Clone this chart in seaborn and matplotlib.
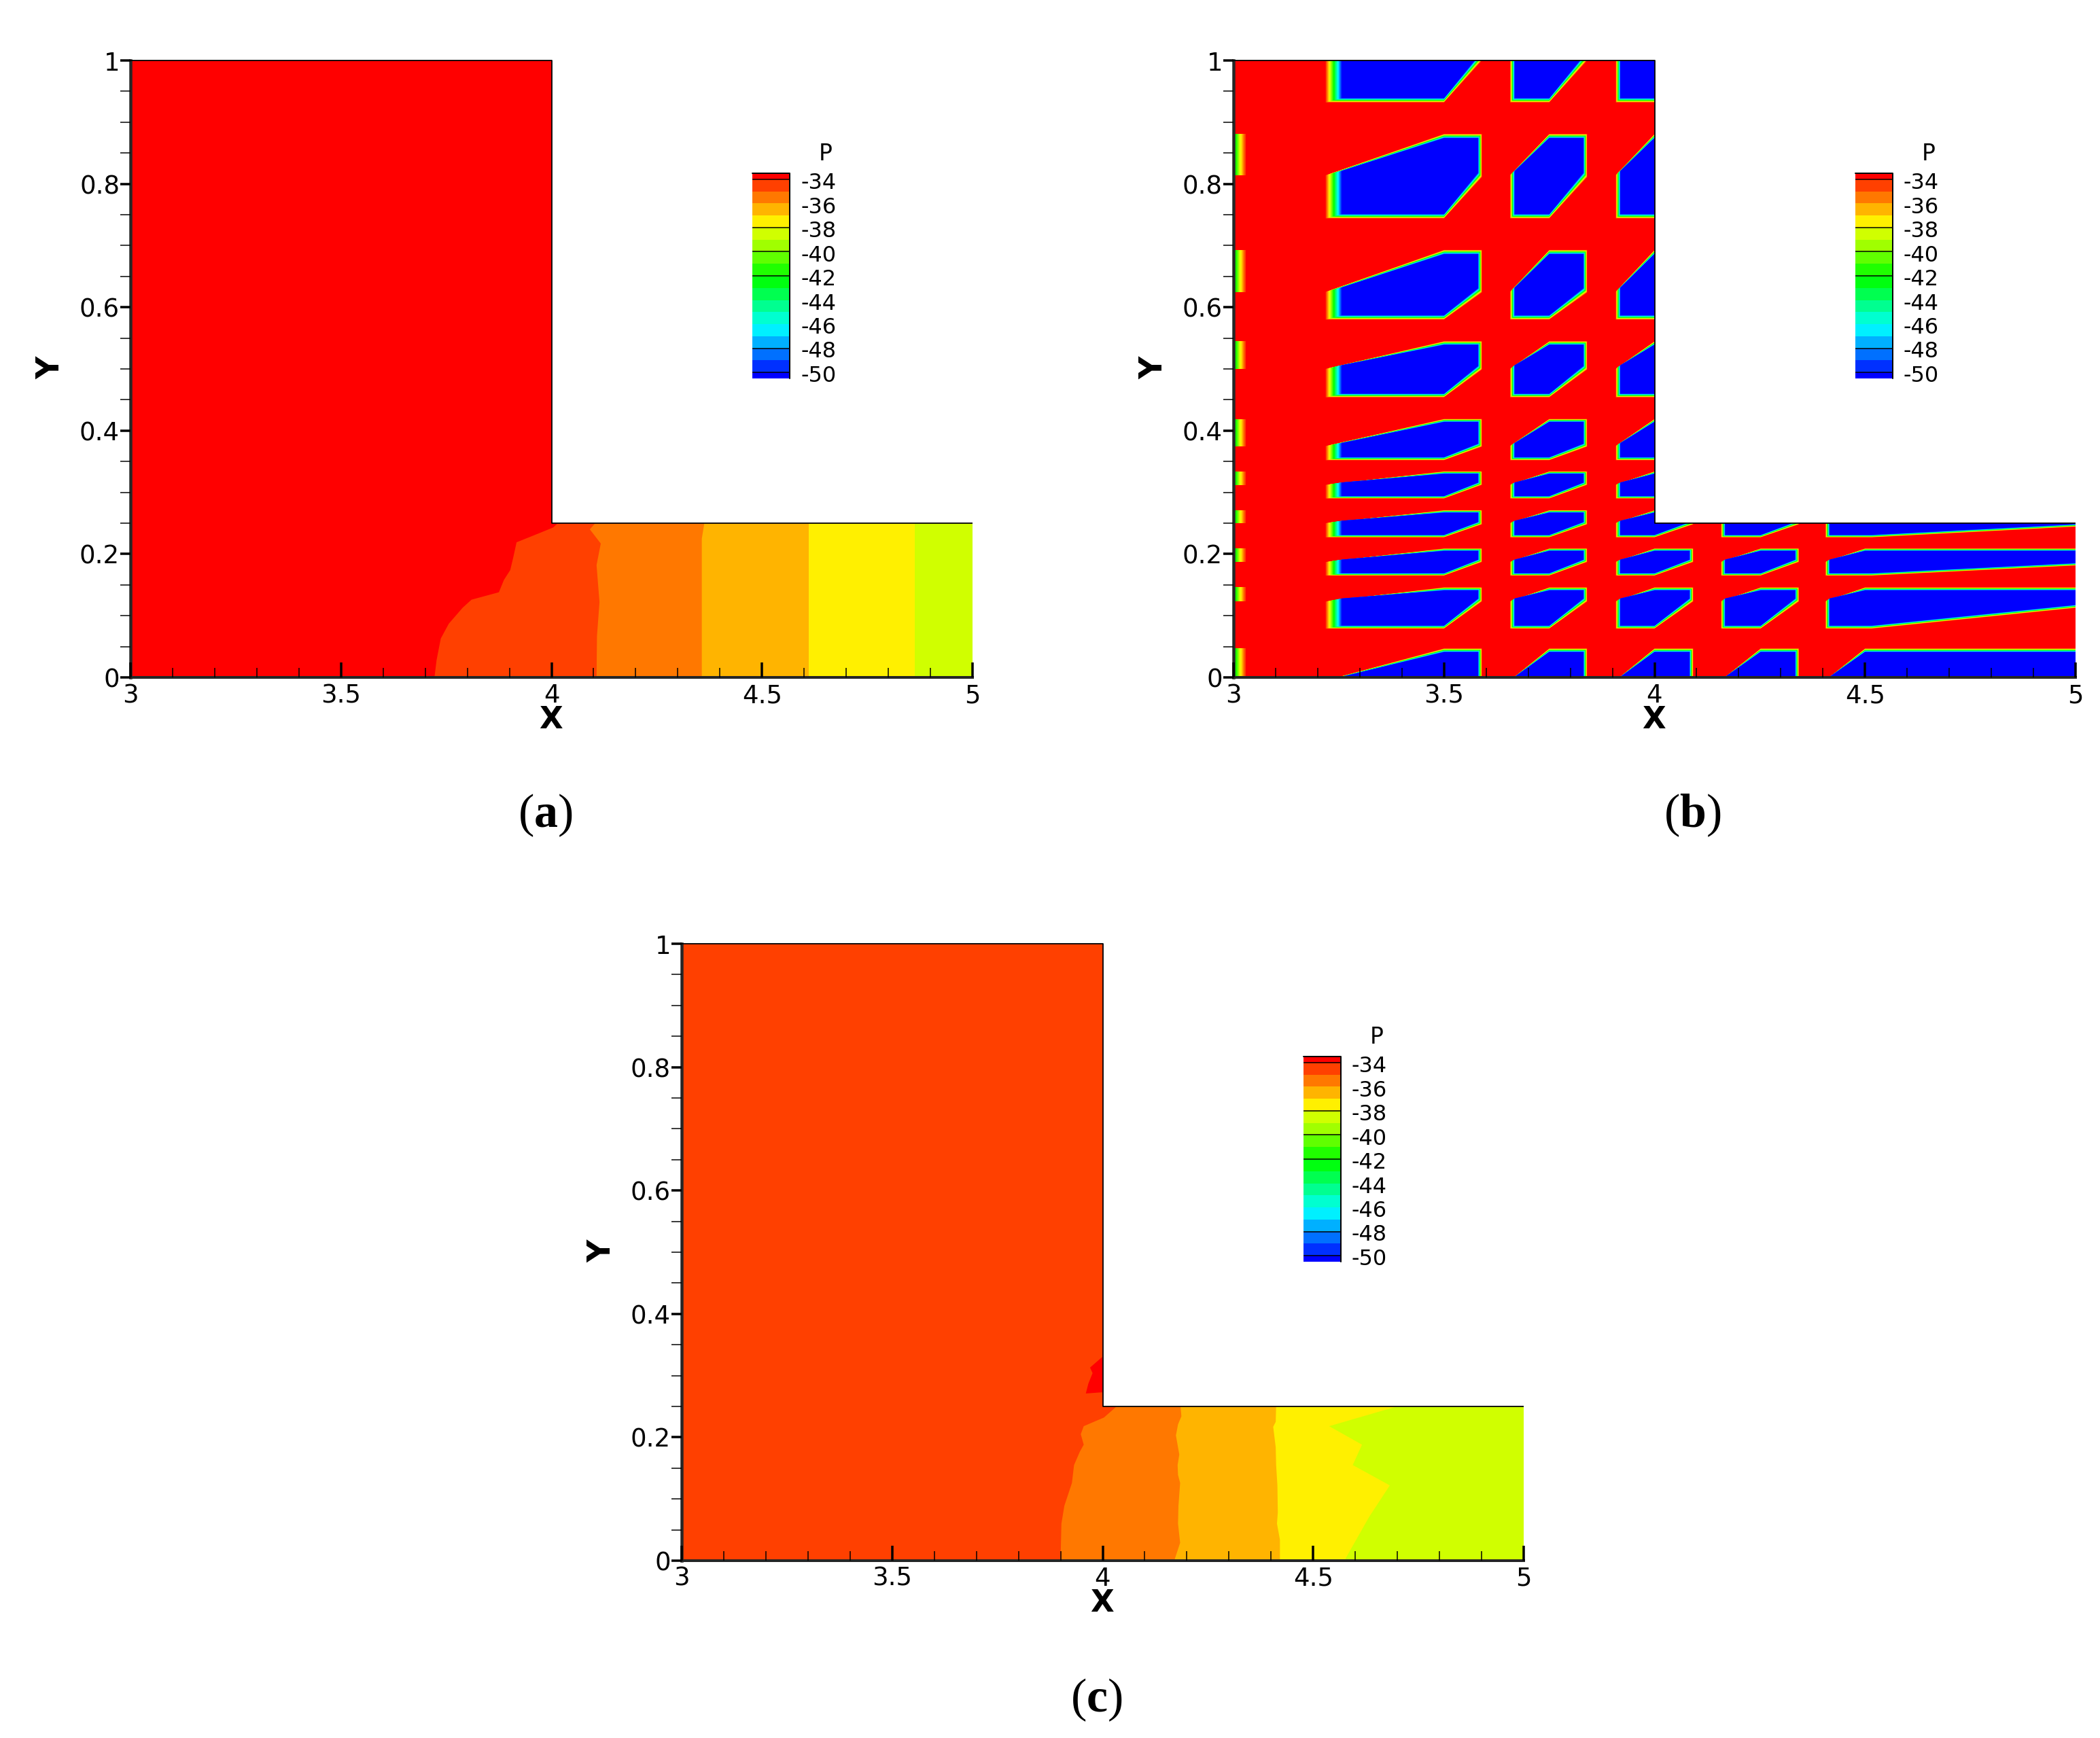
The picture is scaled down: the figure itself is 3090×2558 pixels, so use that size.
import numpy as np
import matplotlib
matplotlib.use('Agg')
import matplotlib.pyplot as plt
from matplotlib.colors import ListedColormap
from matplotlib.patches import Polygon
import seaborn as sns

W, H = 3090, 2558

# Contour colours, from the -33 band down to the -50 band
P_COLORS = ['#ff0000', '#ff4000', '#ff7800', '#ffb400', '#fff000', '#d0ff00',
            '#a0ff00', '#60ff00', '#20ff00', '#00ff10', '#00ff50', '#00ff90',
            '#00ffd0', '#00f0ff', '#00b0ff', '#0070ff', '#0030ff', '#0000ff']
LEGEND_LABELS = ['-34', '-36', '-38', '-40', '-42', '-44', '-46', '-48', '-50']
# half-unit rows taken by each colour in the legend bar, and rows that have a black line
LEGEND_COUNTS = [1] + [2] * 16 + [1]
LEGEND_LINE_ROWS = [1, 9, 13, 17, 29, 33]

DOMAIN_X = [3, 5, 5, 4, 4, 3]
DOMAIN_Y = [0, 0, 0.25, 0.25, 1, 1]
X_MAJOR = [3, 3.5, 4, 4.5, 5]
X_LABELS = ['3', '3.5', '4', '4.5', '5']
X_MINOR = [3.1, 3.2, 3.3, 3.4, 3.6, 3.7, 3.8, 3.9, 4.1, 4.2, 4.3, 4.4, 4.6, 4.7, 4.8, 4.9]
Y_MAJOR = [0, 0.2, 0.4, 0.6, 0.8, 1]
Y_LABELS = ['0', '0.2', '0.4', '0.6', '0.8', '1']
Y_MINOR = [0.05, 0.1, 0.15, 0.25, 0.3, 0.35, 0.45, 0.5, 0.55, 0.65, 0.7, 0.75, 0.85, 0.9, 0.95]

# Panel (a): contour lines, top to bottom
A_X1 = [4.015, 4.004, 3.968, 3.917, 3.909, 3.902, 3.887, 3.875, 3.810, 3.789, 3.756, 3.737, 3.727, 3.722]
A_Y1 = [0.25, 0.243, 0.233, 0.219, 0.194, 0.174, 0.158, 0.138, 0.126, 0.113, 0.087, 0.063, 0.028, 0]
A_X2 = [4.104, 4.091, 4.117, 4.107, 4.114, 4.108, 4.107]
A_Y2 = [0.25, 0.24, 0.217, 0.182, 0.122, 0.067, 0]
A_X3 = [4.363, 4.357, 4.357]
A_Y3 = [0.25, 0.225, 0]
A_X4 = [4.611, 4.611]
A_Y4 = [0.25, 0]
A_X5 = [4.863, 4.863]
A_Y5 = [0.25, 0]

# Panel (c): contour lines, top to bottom
C_X1 = [4.033, 4.003, 3.955, 3.948, 3.955, 3.946, 3.932, 3.927, 3.909, 3.902, 3.900]
C_Y1 = [0.25, 0.232, 0.218, 0.205, 0.188, 0.177, 0.155, 0.126, 0.089, 0.060, 0]
C_X2 = [4.185, 4.187, 4.179, 4.174, 4.182, 4.178, 4.179, 4.184, 4.180, 4.179, 4.184, 4.170]
C_Y2 = [0.25, 0.234, 0.221, 0.203, 0.172, 0.155, 0.139, 0.126, 0.089, 0.060, 0.029, 0]
C_X3 = [4.412, 4.411, 4.405, 4.411, 4.412, 4.415, 4.416, 4.414, 4.421, 4.421]
C_Y3 = [0.25, 0.225, 0.217, 0.184, 0.155, 0.122, 0.078, 0.060, 0.034, 0]
C_X4 = [4.699, 4.538, 4.616, 4.594, 4.682, 4.633, 4.574]
C_Y4 = [0.25, 0.218, 0.188, 0.155, 0.122, 0.071, 0]
C_WEDGE_X = [4.0, 3.997, 3.970, 3.976, 3.966, 3.960, 4.0]
C_WEDGE_Y = [0.33, 0.329, 0.313, 0.304, 0.287, 0.271, 0.273]

# Panel (b): blue cells, one hexagon per column and row
COL_XL = [3.219, 3.657, 3.908, 4.158, 4.406]
COL_XM_BOT = [3.5, 3.75, 4.0, 4.252, 4.516]
COL_XM_TOP = [3.5, 3.75, 4.0, 4.252, 4.5]
COL_XR = [3.59, 3.84, 4.092, 4.343, 5.02]
COL_BAND_L = [0.038, 0.011, 0.011, 0.010, 0.010]
COL_BAND_R = [0.009, 0.009, 0.009, 0.009, 0.0]

ROW_YT = [1.1, 0.881, 0.693, 0.545, 0.419, 0.334, 0.271, 0.209, 0.146, 0.047]
ROW_YTL = [1.1, 0.814, 0.625, 0.500, 0.375, 0.312, 0.250, 0.187, 0.123, -0.005]
ROW_YBR = [1.0, 0.811, 0.624, 0.499, 0.374, 0.312, 0.248, 0.187, 0.123, -0.06]
ROW_YB = [0.932, 0.744, 0.580, 0.454, 0.352, 0.290, 0.227, 0.165, 0.079, -0.1]
ROW_BAND = [0.007, 0.007, 0.007, 0.006, 0.005, 0.004, 0.004, 0.004, 0.005, 0.006]
# last column runs out to x=5, where its lower edge has its own height
LAST_COL_YBR = [1.0, 0.811, 0.624, 0.499, 0.374, 0.312, 0.245, 0.182, 0.114, -0.06]
# strips along x=3 belong to cells cut off by the left wall
STRIP_XR = 3.029
STRIP_XL = 2.98

sns.set_theme(style='ticks', rc={'axes.grid': False})
plt.rcParams['font.family'] = ['DejaVu Sans']
plt.rcParams['mathtext.fontset'] = 'custom'
plt.rcParams['mathtext.rm'] = 'Liberation Serif'
plt.rcParams['mathtext.bf'] = 'Liberation Serif:bold'

fig = plt.figure(figsize=(W / 100, H / 100), dpi=100, facecolor='white')


def pt(px):
    return px * 0.72


def ftext(x, y, s, **kw):
    fig.text(x / W, 1 - y / H, s, **kw)


def clipped_fill(ax, clip, xs, ys, color):
    for p in ax.fill(xs, ys, color=color, linewidth=0):
        p.set_clip_path(clip)


def draw_bands(ax, clip, first, lines):
    clipped_fill(ax, clip, DOMAIN_X, DOMAIN_Y, P_COLORS[first])
    for k, (xs, ys) in enumerate(lines):
        clipped_fill(ax, clip, list(xs) + [5, 5], list(ys) + [0, 0.25], P_COLORS[first + k + 1])


def draw_ring(ax, clip, outer_x, outer_y, inner_x, inner_y):
    # nested outlines going from the outer edge to the inner edge, one per colour
    outer_x, outer_y = np.array(outer_x), np.array(outer_y)
    inner_x, inner_y = np.array(inner_x), np.array(inner_y)
    n = len(P_COLORS) - 1
    for k in range(1, n + 1):
        t = (k - 1) / (n - 1)
        clipped_fill(ax, clip, outer_x + t * (inner_x - outer_x),
                     outer_y + t * (inner_y - outer_y), P_COLORS[k])


def draw_cells(ax, clip):
    clipped_fill(ax, clip, DOMAIN_X, DOMAIN_Y, P_COLORS[0])
    for r in range(len(ROW_YT)):
        if r > 0:
            draw_ring(ax, clip,
                      [2.9, STRIP_XR, STRIP_XR, 2.9], [ROW_YTL[r], ROW_YTL[r], ROW_YT[r], ROW_YT[r]],
                      [2.9, STRIP_XL, STRIP_XL, 2.9], [ROW_YTL[r], ROW_YTL[r], ROW_YT[r], ROW_YT[r]])
        for c in range(len(COL_XL)):
            ybr = LAST_COL_YBR[r] if c == 4 else ROW_YBR[r]
            d = ROW_BAND[r]
            dl, dr = COL_BAND_L[c], COL_BAND_R[c]
            draw_ring(ax, clip,
                      [COL_XL[c], COL_XM_BOT[c], COL_XR[c], COL_XR[c], COL_XM_TOP[c], COL_XL[c]],
                      [ROW_YB[r], ROW_YB[r], ybr, ROW_YT[r], ROW_YT[r], ROW_YTL[r]],
                      [COL_XL[c] + dl, COL_XM_BOT[c], COL_XR[c] - dr, COL_XR[c] - dr, COL_XM_TOP[c], COL_XL[c] + dl],
                      [ROW_YB[r] + d, ROW_YB[r] + d, ybr + d, ROW_YT[r] - d, ROW_YT[r] - d, ROW_YTL[r] + d])


def make_panel(x0, y0):
    # x0, y0: pixel position of the top left corner of the plot area
    w, h = 1239, 908
    ax = fig.add_axes([x0 / W, 1 - (y0 + h) / H, w / W, h / H])
    ax.set_xlim(3, 5)
    ax.set_ylim(0, 1)
    ax.set_facecolor('white')
    ax.set_axisbelow(False)
    ax.spines['top'].set_visible(False)
    ax.spines['right'].set_visible(False)
    ax.spines['left'].set_linewidth(pt(4.5))
    ax.spines['bottom'].set_linewidth(pt(4))
    ax.set_xticks(X_MAJOR, X_LABELS)
    ax.set_yticks(Y_MAJOR, Y_LABELS)
    ax.set_xticks(X_MINOR, minor=True)
    ax.set_yticks(Y_MINOR, minor=True)
    ax.tick_params(axis='x', which='major', direction='in', length=pt(22), width=pt(3.5),
                   pad=pt(8), labelsize=pt(37), color='black', labelcolor='black')
    ax.tick_params(axis='x', which='minor', direction='in', length=pt(14), width=pt(1.5), color='black')
    ax.tick_params(axis='y', which='major', direction='out', length=pt(15), width=pt(3.5),
                   pad=pt(1), labelsize=pt(37), color='black', labelcolor='black')
    ax.tick_params(axis='y', which='minor', direction='out', length=pt(15), width=pt(1.5), color='black')

    ax.plot([3, 4, 4, 5], [1, 1, 0.25, 0.25], color='black', lw=pt(1.8), zorder=5,
            solid_capstyle='butt', clip_on=False)

    ftext(x0 + 619, y0 + 971, 'X', fontsize=pt(45), fontweight='bold', ha='center', va='center', color='black')
    ftext(x0 - 117, y0 + 452, 'Y', fontsize=pt(46), fontweight='bold', rotation=90,
          ha='center', va='center', color='black')

    # contour legend next to the plot
    lx, ly = x0 + 915, y0 + 166
    lax = fig.add_axes([lx / W, 1 - (ly + 302) / H, 55 / W, 302 / H])
    rows = np.repeat(np.arange(len(P_COLORS)), LEGEND_COUNTS)[:, None]
    sns.heatmap(rows, ax=lax, cmap=ListedColormap(P_COLORS), cbar=False,
                xticklabels=False, yticklabels=False, vmin=-0.5, vmax=len(P_COLORS) - 0.5)
    lax.hlines(LEGEND_LINE_ROWS, 0, 1, color='black', lw=pt(1.5))
    lax.plot([0, 1, 1], [0, 0, len(rows)], color='black', lw=pt(2), clip_on=False)

    ftext(lx + 108, ly - 29, 'P', fontsize=pt(33), ha='center', va='center', color='black')
    for k, lab in enumerate(LEGEND_LABELS):
        ftext(lx + 71, ly + 15 + k * 35.4, lab, fontsize=pt(32), ha='left', va='center', color='black')

    clip = Polygon(np.column_stack([DOMAIN_X, DOMAIN_Y]), transform=ax.transData)
    return ax, clip


# (a)
ax_a, clip_a = make_panel(192, 89)
draw_bands(ax_a, clip_a, 0, [(A_X1, A_Y1), (A_X2, A_Y2), (A_X3, A_Y3), (A_X4, A_Y4), (A_X5, A_Y5)])
ftext(802, 1200, r'($\mathbf{a}$)', fontsize=pt(70), family='Liberation Serif', ha='center', va='center', color='black')

# (b)
ax_b, clip_b = make_panel(1815, 89)
draw_cells(ax_b, clip_b)
ftext(2490, 1200, r'($\mathbf{b}$)', fontsize=pt(70), family='Liberation Serif', ha='center', va='center', color='black')

# (c)
ax_c, clip_c = make_panel(1003, 1389)
draw_bands(ax_c, clip_c, 1, [(C_X1, C_Y1), (C_X2, C_Y2), (C_X3, C_Y3), (C_X4, C_Y4)])
clipped_fill(ax_c, clip_c, C_WEDGE_X, C_WEDGE_Y, P_COLORS[0])
ftext(1613, 2502, r'($\mathbf{c}$)', fontsize=pt(70), family='Liberation Serif', ha='center', va='center', color='black')

fig.savefig('out.png', dpi=100, facecolor='white')
